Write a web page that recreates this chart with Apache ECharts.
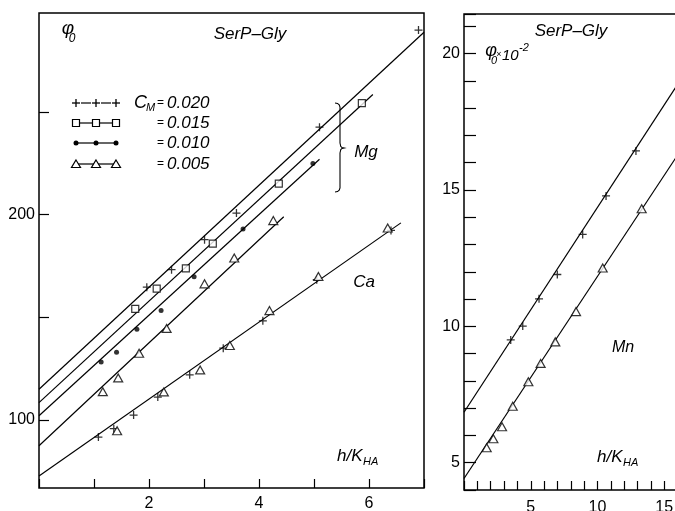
<!DOCTYPE html>
<html>
<head>
<meta charset="utf-8">
<script src="https://cdn.jsdelivr.net/npm/echarts@6/dist/echarts.min.js"></script>
<style>
html,body{margin:0;padding:0;background:#fff}
#main{width:675px;height:511px}
</style>
</head>
<body>
<div id="main"></div>
<script>
// left panel: phi0 vs h/KHA, SerP-Gly, Mg at 4 concentrations + Ca
var mg020 = [[1.96,164.7],[2.41,173.2],[3.01,187.8],[3.59,200.8],[5.10,242.6],[6.90,289.9]];
var mg015 = [[1.75,154.1],[2.14,164.0],[2.67,173.8],[3.16,185.9],[4.36,215.1],[5.87,254.3]];
var mg010 = [[1.13,128.3],[1.41,133.0],[1.78,144.2],[2.22,153.3],[2.82,169.8],[3.71,193.0],[4.98,224.9]];
var mg005 = [[1.16,113.8],[1.44,120.5],[1.82,132.5],[2.32,144.6],[3.01,166.3],[3.55,178.9],[4.26,197.1]];
var ca020 = [[1.08,91.7],[1.36,95.8],[1.72,102.4],[2.16,111.2],[2.74,122.0],[3.35,135.0],[4.07,148.3],[5.05,168.3],[6.40,192.3]];
var ca005 = [[1.42,94.8],[2.27,113.7],[2.93,124.4],[3.47,136.3],[4.19,153.3],[5.08,169.9],[6.34,193.5]];
// fitted straight lines (end points)
var mg020Line = [[0,115.0],[7,288.8]];
var mg015Line = [[0,108.5],[6.07,258.5]];
var mg010Line = [[0,102.1],[5.1,227.0]];
var mg005Line = [[0,87.5],[4.45,199.0]];
var caLine = [[0,72.7],[6.58,196.0]];
var leftYTicks = [100,150,200,250];
var leftYLabels = [100,200];

// right panel: phi0*10^-2, Mn
var mn020 = [[3.5,9.5],[4.4,10.01],[5.62,11.01],[6.99,11.9],[8.89,13.37],[10.64,14.78],[12.88,16.43]];
var mn005 = [[1.7,5.55],[2.2,5.88],[2.85,6.32],[3.65,7.07],[4.82,7.97],[5.74,8.64],[6.84,9.43],[8.39,10.54],[10.39,12.14],[13.31,14.31]];
var mn020Line = [[0,6.85],[18,20.37]];
var mn005Line = [[0,4.42],[18,17.76]];

var legendLabels = ['0.020','0.015','0.010','0.005'];

var FONT = '"Liberation Sans", Arial, sans-serif';
var PLUS = 'path://M4.2,0H5.8V4.2H10V5.8H5.8V10H4.2V5.8H0V4.2H4.2Z';

var chart = echarts.init(document.getElementById('main'), null, {renderer:'canvas'});

function lineS(data, gi) {
  return {
    type:'line', data:data, xAxisIndex:gi, yAxisIndex:gi,
    symbol:'none', silent:true, animation:false,
    lineStyle:{color:'#000', width:1.2}
  };
}
function ptS(data, gi, sym) {
  var s = {type:'scatter', data:data, xAxisIndex:gi, yAxisIndex:gi, silent:true, animation:false, z:5};
  if (sym=='plus') { s.symbol = PLUS; s.symbolSize = 8; s.itemStyle = {color:'#000'}; }
  if (sym=='square') { s.symbol = 'rect'; s.symbolSize = 7; s.itemStyle = {color:'#fff', borderColor:'#000', borderWidth:1.2}; }
  if (sym=='dot') { s.symbol = 'circle'; s.symbolSize = 5; s.itemStyle = {color:'#000'}; }
  if (sym=='tri') { s.symbol = 'triangle'; s.symbolSize = [9,8]; s.itemStyle = {color:'#fff', borderColor:'#000', borderWidth:1.2}; }
  return s;
}

function txt(x, y, t, size, opt) {
  opt = opt || {};
  return {
    type:'text', x:x, y:y, z:10, silent:true,
    style:{
      text:t, fill:'#000', fontSize:size, fontFamily:FONT,
      fontStyle: opt.normal ? 'normal' : 'italic',
      align: opt.align || 'center', verticalAlign:'middle'
    }
  };
}

// legend drawn by hand (3 markers per sample like the figure)
var rowsY = [103,123,143,164];
var syms = ['plus','square','dot','tri'];
var graphics = [];
rowsY.forEach(function(y, i) {
  var xs = [76,96,116];
  var gap = syms[i]=='plus' ? 5 : 0;
  for (var k=0; k<2; k++) {
    graphics.push({type:'line', silent:true, z:10, shape:{x1:xs[k]+gap, y1:y, x2:xs[k+1]-gap, y2:y}, style:{stroke:'#000', lineWidth:1.2}});
  }
  xs.forEach(function(x) {
    if (syms[i]=='plus') {
      graphics.push({type:'line', silent:true, z:11, shape:{x1:x-4,y1:y,x2:x+4,y2:y}, style:{stroke:'#000', lineWidth:1.3}});
      graphics.push({type:'line', silent:true, z:11, shape:{x1:x,y1:y-4,x2:x,y2:y+4}, style:{stroke:'#000', lineWidth:1.3}});
    } else if (syms[i]=='square') {
      graphics.push({type:'rect', silent:true, z:11, shape:{x:x-3.5,y:y-3.5,width:7,height:7}, style:{fill:'#fff', stroke:'#000', lineWidth:1.2}});
    } else if (syms[i]=='dot') {
      graphics.push({type:'circle', silent:true, z:11, shape:{cx:x,cy:y,r:2.5}, style:{fill:'#000'}});
    } else {
      graphics.push({type:'polygon', silent:true, z:11, shape:{points:[[x,y-4],[x+4.5,y+3.5],[x-4.5,y+3.5]]}, style:{fill:'#fff', stroke:'#000', lineWidth:1.2}});
    }
  });
  graphics.push(txt(157, y, '=', 12, {align:'left', normal:true}));
  graphics.push(txt(167, y, legendLabels[i], 17, {align:'left'}));
});
graphics.push(txt(134, 103, 'C', 18, {align:'left'}));
graphics.push(txt(146, 108, 'M', 11, {align:'left'}));

// labels inside panels
graphics.push(txt(68, 29, 'φ', 19));
graphics.push(txt(72, 39, '0', 12));
graphics.push(txt(250, 34, 'SerP–Gly', 17));
graphics.push(txt(366, 152, 'Mg', 17));
graphics.push(txt(364, 282, 'Ca', 17));
graphics.push(txt(337, 456, 'h/K', 17, {align:'left'}));
graphics.push(txt(363, 462, 'HA', 11, {align:'left'}));
// brace for Mg
graphics.push({
  type:'polyline', silent:true, z:10,
  shape:{points:[[335,103],[337.5,103.4],[339.2,104.8],[340,107],[340,143],[340.8,146.5],[342,147.6],[344,148],
                 [342,148.4],[340.8,149.5],[340,153],[340,188],[339.2,190.2],[337.5,191.6],[335,192]]},
  style:{fill:null, stroke:'#000', lineWidth:1.1}
});

graphics.push(txt(571, 31, 'SerP–Gly', 17));
graphics.push(txt(491, 51, 'φ', 18));
graphics.push(txt(494, 61, '0', 11));
graphics.push(txt(499, 55, '×', 9, {normal:true}));
graphics.push(txt(502, 56, '10', 15, {align:'left'}));
graphics.push(txt(519, 48, '-2', 11, {align:'left'}));
graphics.push(txt(623, 348, 'Mn', 16));
graphics.push(txt(597, 457, 'h/K', 17, {align:'left'}));
graphics.push(txt(623, 463, 'HA', 11, {align:'left'}));

var tickStyle = {color:'#000', width:1.2};
var labelStyle = {color:'#000', fontSize:16, fontFamily:FONT};

var option = {
  backgroundColor:'#fff',
  animation:false,
  grid:[
    {left:39, top:13, width:385, height:475, outerBoundsMode:'none', show:true, borderColor:'#000', borderWidth:1.5, backgroundColor:'transparent'},
    // right panel runs off the page on the right
    {left:464, top:14, width:240.3, height:476, outerBoundsMode:'none', show:true, borderColor:'#000', borderWidth:1.5, backgroundColor:'transparent'}
  ],
  xAxis:[
    {gridIndex:0, type:'value', min:0, max:7, interval:1,
      axisLine:{show:false}, splitLine:{show:false},
      axisTick:{inside:true, length:9, lineStyle:tickStyle},
      axisLabel:Object.assign({margin:8, formatter:function(v){ return (v>0 && v%2===0) ? v : ''; }}, labelStyle)},
    {gridIndex:1, type:'value', min:0, max:18, interval:1,
      axisLine:{show:false}, splitLine:{show:false},
      axisTick:{inside:true, length:9, lineStyle:tickStyle},
      axisLabel:Object.assign({margin:10, formatter:function(v){ return (v>0 && v%5===0) ? v : ''; }}, labelStyle)}
  ],
  yAxis:[
    {gridIndex:0, type:'value', min:66.9, max:298.2,
      axisLine:{show:false}, splitLine:{show:false},
      axisTick:{inside:true, length:10, lineStyle:tickStyle, customValues:leftYTicks},
      axisLabel:Object.assign({margin:4, customValues:leftYLabels}, labelStyle)},
    {gridIndex:1, type:'value', min:4, max:21.45, interval:1,
      axisLine:{show:false}, splitLine:{show:false},
      axisTick:{inside:true, length:12, lineStyle:tickStyle},
      axisLabel:Object.assign({margin:4, formatter:function(v){ return (v%5===0) ? v : ''; }}, labelStyle)}
  ],
  series:[
    lineS(mg020Line,0), lineS(mg015Line,0), lineS(mg010Line,0), lineS(mg005Line,0), lineS(caLine,0),
    ptS(mg020,0,'plus'), ptS(mg015,0,'square'), ptS(mg010,0,'dot'), ptS(mg005,0,'tri'),
    ptS(ca020,0,'plus'), ptS(ca005,0,'tri'),
    lineS(mn020Line,1), lineS(mn005Line,1),
    ptS(mn020,1,'plus'), ptS(mn005,1,'tri')
  ],
  graphic:graphics
};

chart.setOption(option);
</script>
</body>
</html>
